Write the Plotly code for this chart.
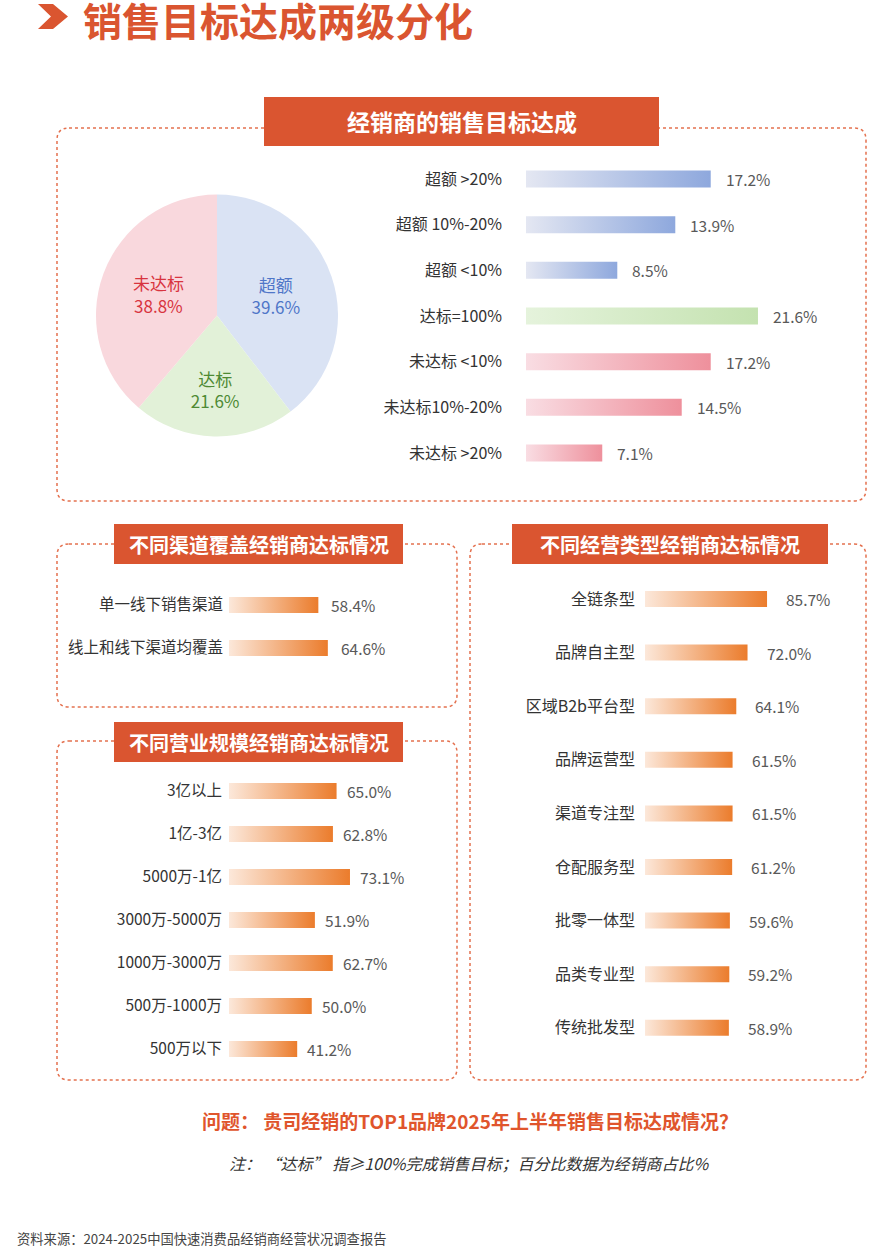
import plotly.graph_objects as go

# ---------------- data ----------------
title_text = "销售目标达成两级分化"

pie_labels = ["超额", "达标", "未达标"]
pie_values = [39.6, 21.6, 38.8]

top_title = "经销商的销售目标达成"
top_labels = ["超额 >20%", "超额 10%-20%", "超额 <10%", "达标=100%",
              "未达标 <10%", "未达标10%-20%", "未达标 >20%"]
top_values = [17.2, 13.9, 8.5, 21.6, 17.2, 14.5, 7.1]
top_groups = ["blue", "blue", "blue", "green", "pink", "pink", "pink"]

channel_title = "不同渠道覆盖经销商达标情况"
channel_labels = ["单一线下销售渠道", "线上和线下渠道均覆盖"]
channel_values = [58.4, 64.6]

scale_title = "不同营业规模经销商达标情况"
scale_labels = ["3亿以上", "1亿-3亿", "5000万-1亿", "3000万-5000万",
                "1000万-3000万", "500万-1000万", "500万以下"]
scale_values = [65.0, 62.8, 73.1, 51.9, 62.7, 50.0, 41.2]

type_title = "不同经营类型经销商达标情况"
type_labels = ["全链条型", "品牌自主型", "区域B2b平台型", "品牌运营型", "渠道专注型",
               "仓配服务型", "批零一体型", "品类专业型", "传统批发型"]
type_values = [85.7, 72.0, 64.1, 61.5, 61.5, 61.2, 59.6, 59.2, 58.9]

question_text = "问题： 贵司经销的TOP1品牌2025年上半年销售目标达成情况？"
note_text = "注： “达标” 指≥100%完成销售目标；百分比数据为经销商占比%"
source_text = "资料来源：2024-2025中国快速消费品经销商经营状况调查报告"

# ---------------- style ----------------
W, H = 892, 1258
FONT = "Noto Sans CJK SC"
ORANGE = "#DA5530"
BORDER = "#E4714F"
LABEL_C = "#333333"
VALUE_C = "#595959"

pie_colors = ["#DAE3F4", "#E2F1D8", "#F9D8DD"]
pie_text_colors = ["#4F76C8", "#4E8A34", "#D8343F"]
grad = {
    "blue": [[0, "#E4E7F2"], [1, "#8EA8DD"]],
    "green": [[0, "#E5F3DC"], [1, "#C4E2B0"]],
    "pink": [[0, "#F9DDE3"], [1, "#EE909C"]],
    "orange": [[0, "#FCE8DA"], [1, "#EB7C2C"]],
}


def px(p):
    return p / W


def py(p):
    return 1 - p / H


fig = go.Figure()

# ---------------- pie ----------------
fig.add_trace(go.Pie(
    labels=pie_labels, values=pie_values, sort=False, direction="clockwise",
    rotation=0, marker=dict(colors=pie_colors, line=dict(width=0)),
    texttemplate="%{label}<br>%{value:.1f}%", textposition="inside",
    insidetextorientation="horizontal",
    textfont=dict(family=FONT, size=17, color=pie_text_colors),
    domain=dict(x=[px(96), px(338)], y=[py(437), py(194)]),
    showlegend=False, hoverinfo="skip",
))

annotations = []


def bar_panel(axid, labels, values, groups, x0, x1, scale, row0, step, bar_h,
              gap, standoff, label_size=16):
    n = len(values)
    xa = "xaxis" + ("" if axid == 1 else str(axid))
    ya = "yaxis" + ("" if axid == 1 else str(axid))
    xr = "x" + ("" if axid == 1 else str(axid))
    yr = "y" + ("" if axid == 1 else str(axid))
    half = bar_h / step / 2
    for i, (v, g) in enumerate(zip(values, groups)):
        fig.add_trace(go.Scatter(
            x=[0, v, v, 0, 0], y=[i - half, i - half, i + half, i + half, i - half],
            mode="lines", line=dict(width=0), fill="toself",
            fillgradient=dict(type="horizontal", colorscale=grad[g]),
            xaxis=xr, yaxis=yr, showlegend=False, hoverinfo="skip",
        ))
        annotations.append(dict(
            x=v, y=i, xref=xr, yref=yr, text=f"{v:.1f}%", showarrow=False,
            xanchor="left", yanchor="middle", xshift=gap,
            font=dict(family=FONT, size=15.5, color=VALUE_C),
        ))
    top = row0 - step / 2
    bottom = row0 + step * (n - 1) + step / 2
    fig.layout[xa] = dict(domain=[px(x0), px(x1)], range=[0, (x1 - x0) / scale],
                          visible=False, anchor=yr, fixedrange=True)
    fig.layout[ya] = dict(domain=[py(bottom), py(top)], range=[n - 0.5, -0.5],
                          anchor=xr, tickvals=list(range(n)), ticktext=labels,
                          showgrid=False, zeroline=False, showline=False, ticks="",
                          ticklabelstandoff=standoff,
                          tickfont=dict(family=FONT, size=label_size, color=LABEL_C),
                          fixedrange=True)


bar_panel(1, top_labels, top_values, top_groups, 526, 866, 10.74, 179, 45.67, 17, 13, 23)
bar_panel(2, channel_labels, channel_values, ["orange"] * len(channel_values),
          229, 452, 1.53, 605, 43, 16, 11, 5, 15.5)
bar_panel(3, scale_labels, scale_values, ["orange"] * len(scale_values),
          229, 452, 1.655, 791, 43, 16, 8, 6, 15.5)
bar_panel(4, type_labels, type_values, ["orange"] * len(type_values),
          645, 860, 1.424, 599, 53.6, 16, 17, 9)


# ---------------- decoration shapes ----------------
def rounded(x0, y0, x1, y1, r):
    pts = [("M", [(x0 + r, y0)]), ("L", [(x1 - r, y0)]), ("Q", [(x1, y0), (x1, y0 + r)]),
           ("L", [(x1, y1 - r)]), ("Q", [(x1, y1), (x1 - r, y1)]), ("L", [(x0 + r, y1)]),
           ("Q", [(x0, y1), (x0, y1 - r)]), ("L", [(x0, y0 + r)]),
           ("Q", [(x0, y0), (x0 + r, y0)])]
    s = ""
    for cmd, ps in pts:
        s += cmd + " " + " ".join(f"{px(a):.5f},{py(b):.5f}" for a, b in ps) + " "
    return s + "Z"


shapes = []
for box in [(57, 128, 866, 501), (57, 544, 457, 707), (57, 741, 457, 1080), (470, 544, 866, 1080)]:
    shapes.append(dict(type="path", path=rounded(*box, 12), xref="paper", yref="paper",
                       line=dict(color=BORDER, width=1.5, dash="dot"), layer="below"))

headers = [((264, 97, 659, 146), top_title, 23),
           ((114, 524, 403, 564), channel_title, 20),
           ((114, 722, 403, 762), scale_title, 20),
           ((512, 524, 828, 564), type_title, 20)]
for (x0, y0, x1, y1), txt, fs in headers:
    shapes.append(dict(type="rect", xref="paper", yref="paper", x0=px(x0), x1=px(x1),
                       y0=py(y1), y1=py(y0), fillcolor=ORANGE, line=dict(width=0),
                       layer="below"))
    annotations.append(dict(x=px((x0 + x1) / 2), y=py((y0 + y1) / 2), xref="paper",
                            yref="paper", text=f"<b>{txt}</b>", showarrow=False,
                            xanchor="center", yanchor="middle",
                            font=dict(family=FONT, size=fs, color="white")))

# chevron
chev = [(38, 4), (53, 4), (68, 16.5), (53, 29), (38, 29), (51, 16.5)]
path = "M " + " L ".join(f"{px(a):.5f},{py(b):.5f}" for a, b in chev) + " Z"
shapes.append(dict(type="path", path=path, xref="paper", yref="paper",
                   fillcolor=ORANGE, line=dict(width=0)))

annotations.append(dict(x=px(81), y=py(19), xref="paper", yref="paper",
                        text=f"<b>{title_text}</b>", showarrow=False, xanchor="left",
                        yanchor="middle", font=dict(family=FONT, size=39, color=ORANGE)))
annotations.append(dict(x=px(470), y=py(1120), xref="paper", yref="paper",
                        text=f"<b>{question_text}</b>", showarrow=False, xanchor="center",
                        yanchor="middle", font=dict(family=FONT, size=19, color="#E0552C")))
annotations.append(dict(x=px(469), y=py(1163), xref="paper", yref="paper",
                        text=f"<i>{note_text}</i>", showarrow=False, xanchor="center",
                        yanchor="middle", font=dict(family=FONT, size=16, color=LABEL_C)))
annotations.append(dict(x=px(15), y=py(1238), xref="paper", yref="paper",
                        text=source_text, showarrow=False, xanchor="left",
                        yanchor="middle", font=dict(family=FONT, size=13.3, color="#444444")))

fig.update_layout(
    width=W, height=H, margin=dict(l=0, r=0, t=0, b=0),
    paper_bgcolor="white", plot_bgcolor="rgba(0,0,0,0)",
    shapes=shapes, annotations=annotations, showlegend=False,
    font=dict(family=FONT),
)

fig.write_html("out.html", config={"displayModeBar": False},
               post_script="document.body.style.margin='0';document.body.style.overflow='hidden';")
